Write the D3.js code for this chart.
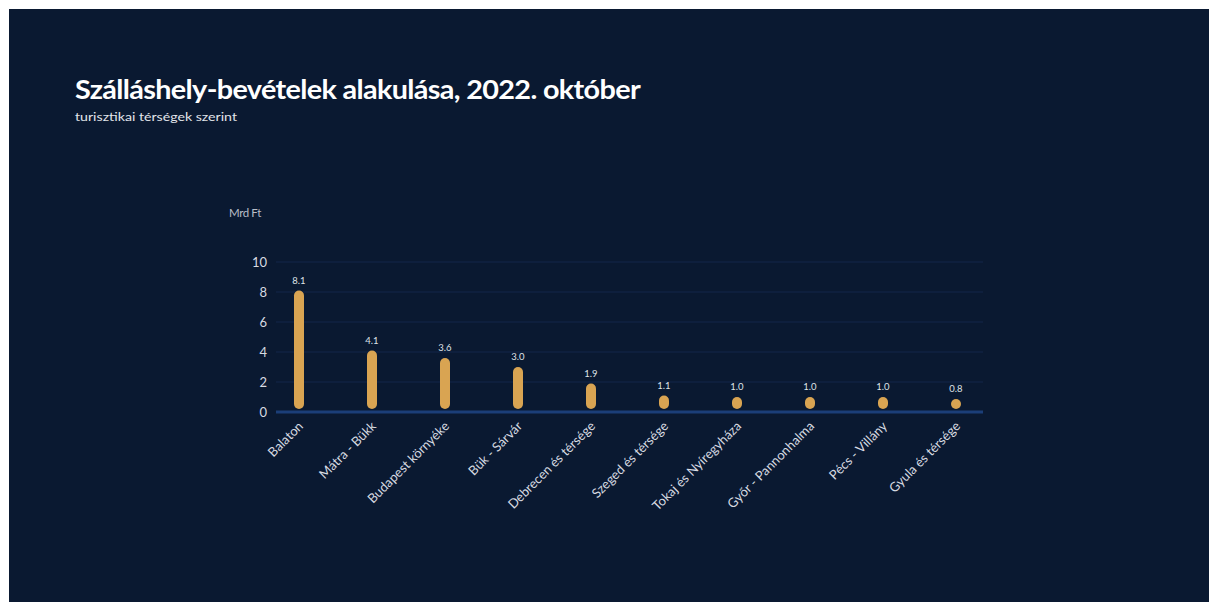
<!DOCTYPE html>
<html>
<head>
<meta charset="utf-8">
<script src="https://cdn.jsdelivr.net/npm/d3@7"></script>
<style>
html,body{margin:0;padding:0;background:#ffffff;}
svg{display:block;}
</style>
</head>
<body>
<svg id="chart" width="1209" height="602"></svg>
<script>
const categories = ["Balaton","Mátra - Bükk","Budapest környéke","Bük - Sárvár","Debrecen és térsége","Szeged és térsége","Tokaj és Nyíregyháza","Győr - Pannonhalma","Pécs - Villány","Gyula és térsége"];
const values = [8.1, 4.1, 3.6, 3.0, 1.9, 1.1, 1.0, 1.0, 1.0, 0.8];
const valueLabels = ["8.1","4.1","3.6","3.0","1.9","1.1","1.0","1.0","1.0","0.8"];
const yTicks = [0, 2, 4, 6, 8, 10];
const titleText = "Szálláshely-bevételek alakulása, 2022. október";
const subtitleText = "turisztikai térségek szerint";
const unitText = "Mrd Ft";

const svg = d3.select("#chart");
const font = "Lato, 'Open Sans', sans-serif";

svg.append("rect").attr("x", 9).attr("y", 9).attr("width", 1200).attr("height", 593).attr("fill", "#0a1931");

svg.append("text").attr("x", 75).attr("y", 99)
  .attr("fill", "#ffffff").attr("font-family", font).attr("font-weight", 700)
  .attr("font-size", 27).attr("letter-spacing", -0.6)
  .attr("textLength", 565).attr("lengthAdjust", "spacingAndGlyphs")
  .text(titleText);
svg.append("text").attr("x", 75).attr("y", 121)
  .attr("fill", "#e2e5eb").attr("font-family", font)
  .attr("font-size", 11).attr("textLength", 162).attr("lengthAdjust", "spacingAndGlyphs")
  .text(subtitleText);

const x = d3.scaleBand().domain(categories).range([262.5, 992.5]).paddingInner(0.86).paddingOuter(0.43);
const y = d3.scaleLinear().domain([0, 10]).range([412, 262]);
const xL = 276, xR = 983;

// gridlines
svg.append("g").selectAll("line").data(yTicks.filter(d => d > 0)).join("line")
  .attr("x1", xL).attr("x2", xR)
  .attr("y1", d => y(d)).attr("y2", d => y(d))
  .attr("stroke", "#12264a").attr("stroke-width", 1);

// y axis labels
const yAxis = d3.axisLeft(y).tickValues(yTicks).tickSize(0).tickPadding(0).tickFormat(d3.format("d"));
const gy = svg.append("g").attr("transform", "translate(267,0)").call(yAxis);
gy.select(".domain").remove();
gy.selectAll("text").attr("fill", "#d8dbe2").attr("font-family", font).attr("font-size", 13).attr("dy", "0.32em");

svg.append("text").attr("x", 229).attr("y", 217)
  .attr("fill", "#b9bec8").attr("font-family", font).attr("font-size", 11.5).attr("letter-spacing", -0.4)
  .text(unitText);

// zero line
svg.append("line").attr("x1", xL).attr("x2", xR).attr("y1", y(0)).attr("y2", y(0))
  .attr("stroke", "#1b3e78").attr("stroke-width", 3);

// bars
const data = categories.map((c, i) => ({c, v: values[i], l: valueLabels[i]}));
const bw = 10;
const bottom = y(0) - 3;
svg.append("g").selectAll("rect").data(data).join("rect")
  .attr("x", d => x(d.c) + x.bandwidth()/2 - bw/2)
  .attr("y", d => Math.min(y(d.v), bottom - bw))
  .attr("width", bw)
  .attr("height", d => Math.max(bottom - y(d.v), bw))
  .attr("rx", bw/2).attr("ry", bw/2)
  .attr("fill", "#d9a452");

// value labels
svg.append("g").selectAll("text").data(data).join("text")
  .attr("x", d => x(d.c) + x.bandwidth()/2)
  .attr("y", d => Math.min(y(d.v), bottom - bw) - 7)
  .attr("text-anchor", "middle")
  .attr("fill", "#dfe2e8").attr("font-family", font).attr("font-size", 9.5)
  .text(d => d.l);

// x axis labels
const xAxis = d3.axisBottom(x).tickSize(0).tickPadding(0);
const gx = svg.append("g").attr("transform", `translate(0,${y(0)})`).call(xAxis);
gx.select(".domain").remove();
gx.selectAll(".tick text")
  .attr("fill", "#d8dbe2").attr("font-family", font).attr("font-size", 13)
  .attr("text-anchor", "end")
  .attr("dy", 0)
  .attr("transform", "translate(5,15) rotate(-45)");
</script>
</body>
</html>
